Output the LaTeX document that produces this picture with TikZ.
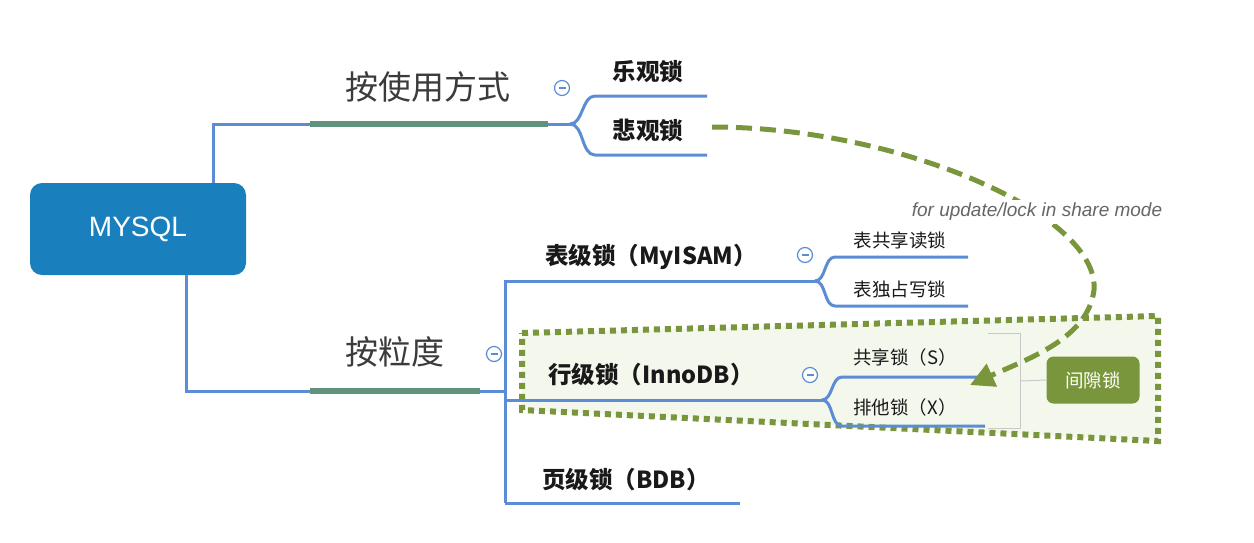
\documentclass[tikz,border=0pt]{standalone}
\usepackage{fontspec}
\setmainfont{Liberation Sans}
\newfontfamily\cjk{Noto Sans CJK SC}
\usetikzlibrary{arrows.meta}
\definecolor{boxblue}{RGB}{26,128,189}
\definecolor{lineblue}{RGB}{92,140,212}
\definecolor{bargreen}{RGB}{96,146,126}
\definecolor{olive}{RGB}{122,150,60}
\definecolor{regionfill}{RGB}{244,247,236}
\definecolor{txt}{RGB}{25,25,25}
\definecolor{bracketgray}{RGB}{200,200,200}
\begin{document}
\begin{tikzpicture}[x=1pt,y=-1pt,
  blue line/.style={draw=lineblue,line width=3pt},
  bar/.style={draw=bargreen,line width=6pt},
  big label/.style={font=\cjk\fontsize{33}{36}\selectfont,text=txt!85,inner sep=0pt},
  mid label/.style={font=\cjk\bfseries\fontsize{23.5}{26}\selectfont,text=txt,inner sep=0pt},
  small label/.style={font=\cjk\fontsize{18.5}{21}\selectfont,text=txt,inner sep=0pt},
  toggle/.style={circle,draw=lineblue,line width=1.2pt,fill=white,minimum size=15pt,inner sep=0pt,
    path picture={\draw[lineblue,line width=1.2pt] ([xshift=-3.5pt]path picture bounding box.center) -- ([xshift=3.5pt]path picture bounding box.center);}},
]
\useasboundingbox[fill=white] (0,0) rectangle (1254,542);

% dotted region
\coordinate (r1) at (522,333);
\coordinate (r2) at (1158,316);
\coordinate (r3) at (1158,441);
\coordinate (r4) at (522,410);
\draw[fill=regionfill,draw=olive,line width=6pt,dash pattern=on 6pt off 5pt] (r1) -- (r2) -- (r3) -- (r4) -- cycle;

% root
\node[draw=none,fill=boxblue,rounded corners=12pt,minimum width=216pt,minimum height=92pt,
  text=white,font=\fontsize{28}{32}\selectfont] (root) at (138,229) {MYSQL};

% upper branch
\coordinate (u0) at (213,183);
\coordinate (u1) at (213,124);
\coordinate (u2) at (310,124);
\coordinate (u3) at (548,124);
\coordinate (uj) at (570,124);
\coordinate (ua) at (595,96);
\coordinate (uae) at (707,96);
\coordinate (ub) at (595,155);
\coordinate (ube) at (707,155);
\draw[blue line] (u0) -- (u1) -- (u2);
\draw[blue line] (u3) -- (uj);
\draw[bar] (u2) -- (u3);
\draw[blue line] (uj) to[out=0,in=180,looseness=0.9] (ua) -- (uae);
\draw[blue line] (uj) to[out=0,in=180,looseness=0.9] (ub) -- (ube);

\node[big label] (use) at (428,87) {按使用方式};
\node[toggle] (t1) at (562,88) {};
\node[mid label] (opt) at (648,72) {乐观锁};
\node[mid label] (pes) at (648,130) {悲观锁};

% lower branch
\coordinate (l0) at (186,275);
\coordinate (l1) at (186,391);
\coordinate (l2) at (310,391);
\coordinate (l3) at (480,391);
\coordinate (lj) at (505,391);
\coordinate (vt) at (505,281);
\coordinate (vb) at (505,503);
\draw[blue line] (l0) -- (l1) -- (l2);
\draw[blue line] (l3) -- (lj);
\draw[bar] (l2) -- (l3);
\node[big label] (gran) at (395,352) {按粒度};
\node[toggle] (t2) at (494,354) {};

% table level
\coordinate (tj) at (815,281);
\coordinate (ta) at (835,257);
\coordinate (tae) at (968,257);
\coordinate (tb) at (835,306);
\coordinate (tbe) at (968,306);
\draw[blue line] (vb) -- (vt) -- (tj);
\draw[blue line] (tj) to[out=0,in=180,looseness=0.9] (ta) -- (tae);
\draw[blue line] (tj) to[out=0,in=180,looseness=0.9] (tb) -- (tbe);
\node[mid label] (tbl) at (651,257) {表级锁（MyISAM）};
\node[toggle] (t3) at (805,255) {};
\node[small label] (tr) at (900,240) {表共享读锁};
\node[small label] (tw) at (900,289) {表独占写锁};

% row level
\coordinate (rw0) at (505,400);
\coordinate (rj) at (822,400);
\coordinate (ra) at (842,377);
\coordinate (rae) at (985,377);
\coordinate (rb) at (842,426);
\coordinate (rbe) at (985,426);
\draw[blue line] (rw0) -- (rj);
\draw[blue line] (rj) to[out=0,in=180,looseness=0.9] (ra) -- (rae);
\draw[blue line] (rj) to[out=0,in=180,looseness=0.9] (rb) -- (rbe);
\node[mid label] (row) at (651,375) {行级锁（InnoDB）};
\node[toggle] (t4) at (810,375) {};
\node[small label] (rs) at (905,357) {共享锁（S）};
\node[small label] (rx) at (905,407) {排他锁（X）};

% page level
\coordinate (pe) at (740,503);
\draw[blue line] (vb) -- (pe);
\node[mid label] (page) at (626,480) {页级锁（BDB）};

% bracket and gap lock
\coordinate (b1) at (988,333);
\coordinate (b2) at (1020,333);
\coordinate (b3) at (1020,428);
\coordinate (b4) at (988,428);
\coordinate (bm) at (1020,381);
\draw[bracketgray,line width=1pt] (b1) -- (b2) -- (b3) -- (b4);
\node[fill=olive,rounded corners=7pt,minimum width=93pt,minimum height=47pt,text=white,
  font=\cjk\fontsize{18.5}{21}\selectfont] (gap) at (1093,380) {间隙锁};
\draw[bracketgray,line width=1pt] (bm) -- (gap.west);

% dashed arrow
\coordinate (a0) at (712,127);
\coordinate (am) at (1094,290);
\coordinate (a1) at (970,385);
\draw[olive,line width=5pt,dash pattern=on 16pt off 8pt,-{Triangle[length=24pt,width=24pt]}]
  (a0) .. controls (900,127) and (1100,215) .. (am) .. controls (1088,338) and (1030,358) .. (a1);
\node[font=\itshape\fontsize{19}{22}\selectfont,text=black!60,inner ysep=3pt,inner xsep=1pt,fill=white] (lbl) at (1037,212) {for update/lock in share mode};
\end{tikzpicture}
\end{document}
